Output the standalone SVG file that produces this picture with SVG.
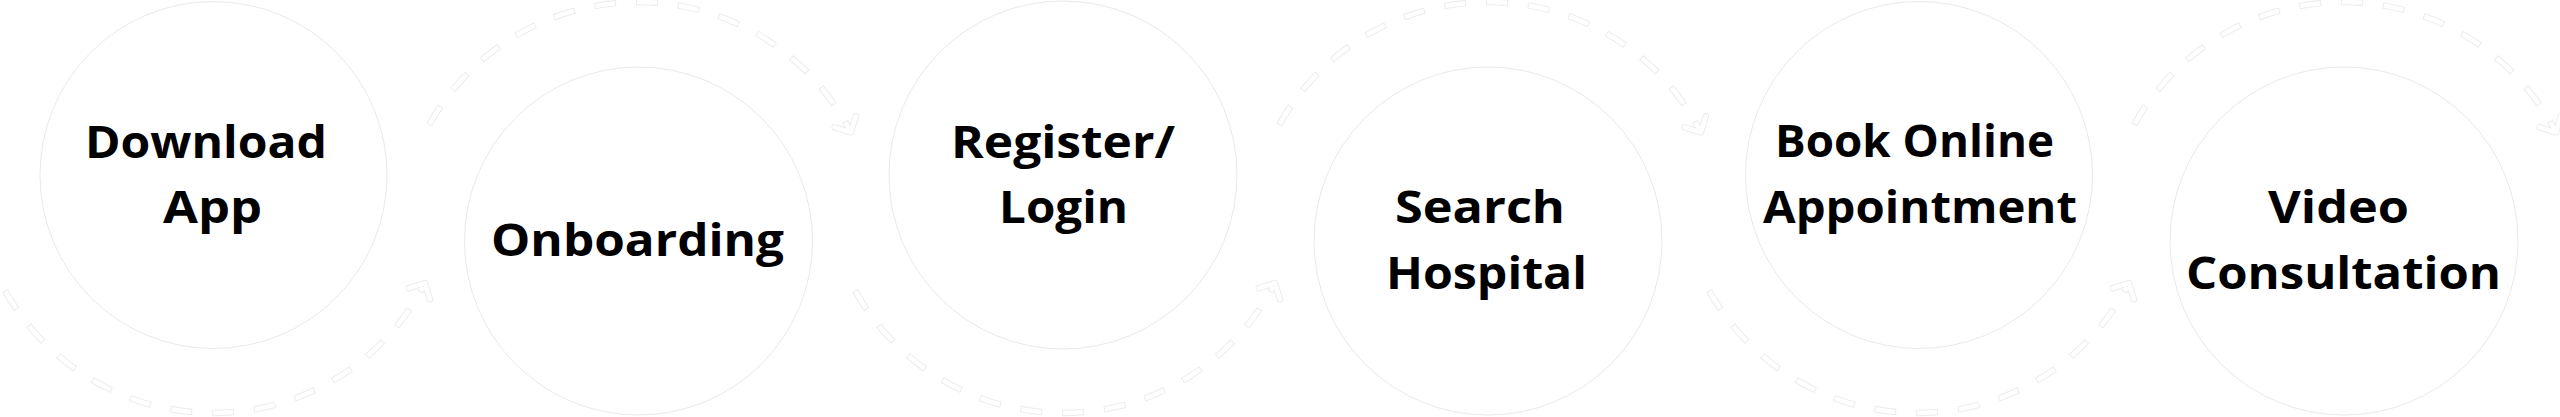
<svg xmlns="http://www.w3.org/2000/svg" width="2560" height="417" viewBox="0 0 2560 417">
  <style>
    .node circle { fill: #ffffff; stroke: #e9e9e9; stroke-width: 1; }
    .lbl { font-family: "Open Sans", "Noto Sans", "Liberation Sans", sans-serif; font-weight: 700; font-size: 44px; fill: #000000; }
    .arc-o { fill: none; stroke: #ececec; stroke-width: 6.5; stroke-dasharray: 22 20; stroke-dashoffset: 37.5; }
    .arc-i { fill: none; stroke: #ffffff; stroke-width: 4.5; stroke-dasharray: 20 22; stroke-dashoffset: 36.5; }
  </style>
  <defs>
    <marker id="chev" markerUnits="userSpaceOnUse" viewBox="-20 -20 40 40" markerWidth="40" markerHeight="40" refX="0" refY="0" orient="auto">
      <polyline points="-8,-12 4,0 -8,12" fill="none" stroke="#ececec" stroke-width="6.5" stroke-linejoin="round" stroke-linecap="round"/>
      <polyline points="-8,-12 4,0 -8,12" fill="none" stroke="#ffffff" stroke-width="4.5" stroke-linejoin="round" stroke-linecap="round"/>
    </marker>
  </defs>
  <rect width="2560" height="417" fill="#ffffff"/>

  <g id="connectors">
    <path class="arc-o" marker-end="url(#chev)" d="M 2.9 286.7 A 238 238 0 0 0 423.1 286.7"/>
    <path class="arc-i" d="M 2.9 286.7 A 238 238 0 0 0 423.1 286.7"/>
    <path class="arc-o" marker-end="url(#chev)" d="M 427 128.8 A 239 239 0 0 1 849 128.8"/>
    <path class="arc-i" d="M 427 128.8 A 239 239 0 0 1 849 128.8"/>
    <path class="arc-o" marker-end="url(#chev)" d="M 852.9 286.7 A 238 238 0 0 0 1273.1 286.7"/>
    <path class="arc-i" d="M 852.9 286.7 A 238 238 0 0 0 1273.1 286.7"/>
    <path class="arc-o" marker-end="url(#chev)" d="M 1277 128.8 A 239 239 0 0 1 1699 128.8"/>
    <path class="arc-i" d="M 1277 128.8 A 239 239 0 0 1 1699 128.8"/>
    <path class="arc-o" marker-end="url(#chev)" d="M 1706.9 286.7 A 238 238 0 0 0 2127.1 286.7"/>
    <path class="arc-i" d="M 1706.9 286.7 A 238 238 0 0 0 2127.1 286.7"/>
    <path class="arc-o" marker-end="url(#chev)" d="M 2132 128.8 A 239 239 0 0 1 2554 128.8"/>
    <path class="arc-i" d="M 2132 128.8 A 239 239 0 0 1 2554 128.8"/>
  </g>

  <g id="node-download" class="node">
    <circle cx="213.5" cy="175" r="173.5"/>
    <text class="lbl" x="85" y="158" textLength="242" lengthAdjust="spacingAndGlyphs">Download</text>
    <text class="lbl" x="163" y="223" textLength="99" lengthAdjust="spacingAndGlyphs">App</text>
  </g>

  <g id="node-onboarding" class="node">
    <circle cx="638.5" cy="241" r="174"/>
    <text class="lbl" x="491" y="256" textLength="293" lengthAdjust="spacingAndGlyphs">Onboarding</text>
  </g>

  <g id="node-register" class="node">
    <circle cx="1063" cy="175" r="174"/>
    <text class="lbl" x="951" y="158" textLength="224" lengthAdjust="spacingAndGlyphs">Register/</text>
    <text class="lbl" x="999" y="223" textLength="129" lengthAdjust="spacingAndGlyphs">Login</text>
  </g>

  <g id="node-search" class="node">
    <circle cx="1488" cy="241" r="174"/>
    <text class="lbl" x="1395" y="223" textLength="170" lengthAdjust="spacingAndGlyphs">Search</text>
    <text class="lbl" x="1386" y="289" textLength="201" lengthAdjust="spacingAndGlyphs">Hospital</text>
  </g>

  <g id="node-book" class="node">
    <circle cx="1919" cy="175" r="173.5"/>
    <text class="lbl" x="1775" y="157" textLength="279" lengthAdjust="spacingAndGlyphs">Book Online</text>
    <text class="lbl" x="1763" y="223" textLength="314" lengthAdjust="spacingAndGlyphs">Appointment</text>
  </g>

  <g id="node-video" class="node">
    <circle cx="2344" cy="241" r="174"/>
    <text class="lbl" x="2268" y="223" textLength="141" lengthAdjust="spacingAndGlyphs">Video</text>
    <text class="lbl" x="2186" y="289" textLength="315" lengthAdjust="spacingAndGlyphs">Consultation</text>
  </g>
</svg>
